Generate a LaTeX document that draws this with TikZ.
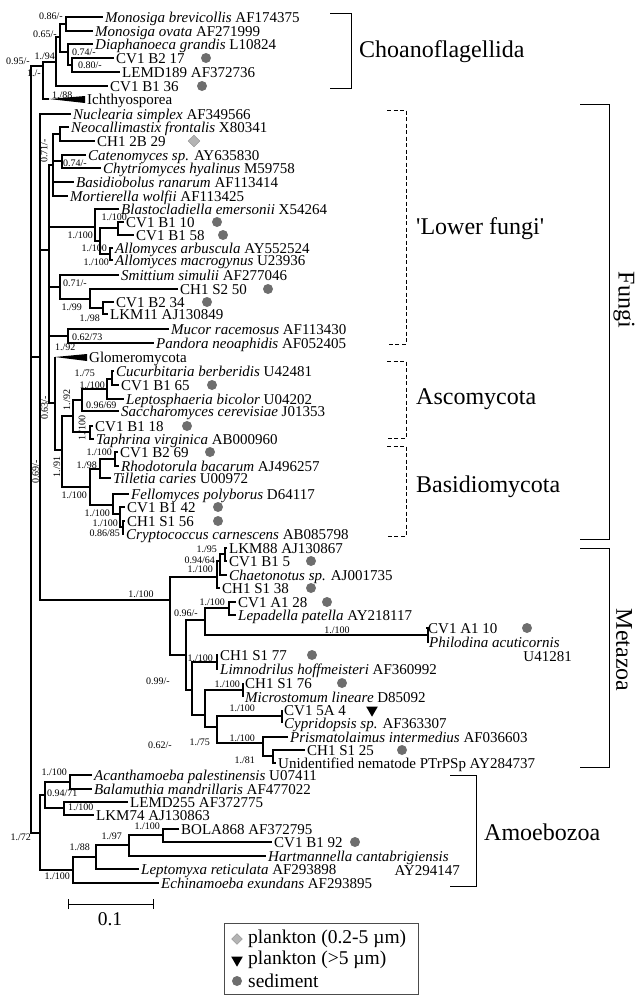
\documentclass[tikz,border=0pt]{standalone}
\usepackage{fontspec}
\setmainfont{Liberation Serif}
\newfontfamily\qfont{Liberation Serif}
\usetikzlibrary{shapes.geometric}
\newcommand{\leaffont}{\fontsize{15}{15}\selectfont}
\newcommand{\supfont}{\fontsize{10}{10}\selectfont}
\newcommand{\grpfont}{\fontsize{24}{24}\selectfont}
\newcommand{\legfont}{\fontsize{19.5}{20}\selectfont}
\newcommand{\spn}[1]{\textit{#1}}
\definecolor{dotc}{HTML}{6E6E6E}
\definecolor{diafill}{HTML}{B4B4B4}
\definecolor{diadraw}{HTML}{8C8C8C}
\begin{document}
\begin{tikzpicture}[x=1pt,y=-1pt,
  tree/.style={line width=1.25pt},
  leaf/.style={anchor=west,inner xsep=2pt,inner ysep=0pt,text height=10pt,text depth=0pt,font=\leaffont},
  sup/.style={inner sep=0pt,font=\supfont},
  grp/.style={inner sep=0pt,font=\grpfont},
  brk/.style={line width=1pt},
  dbrk/.style={line width=1pt,dash pattern=on 4pt off 2.5pt},
  sdot/.style={circle,fill=dotc,inner sep=0pt,minimum size=10pt},
  pdia/.style={diamond,fill=diafill,draw=diadraw,inner sep=0pt,minimum size=12pt},
  ptri/.style={isosceles triangle,shape border rotate=-90,isosceles triangle apex angle=60,fill=black,inner sep=0pt,minimum size=10pt}]
\useasboundingbox (0,0) rectangle (639,999);
\newcommand{\clade}[3]{\draw[tree] (#2) -| (#1) |- (#3);}
\newcommand{\twig}[2]{\draw[tree] (#1 |- #2) -- (#2);}

% ---------------- leaves ----------------
\node[leaf] (mb) at (103,17) {\spn{Monosiga brevicollis} AF174375};
\node[leaf] (mo) at (93,31) {\spn{Monosiga ovata} AF271999};
\node[leaf] (dg) at (93,44) {\spn{Diaphanoeca grandis} L10824};
\node[leaf] (c1) at (114,58) {CV1 B2 17};
\node[leaf] (le) at (120,72) {LEMD189 AF372736};
\node[leaf] (c2) at (108,86) {CV1 B1 36};
\node[leaf] (ich) at (85,99) {Ichthyosporea};
\node[leaf] (nu) at (71,114) {\spn{Nuclearia simplex} AF349566};
\node[leaf] (ne) at (69,127) {\spn{Neocallimastix frontalis} X80341};
\node[leaf] (ch) at (95,141) {CH1 2B 29};
\node[leaf] (ca) at (86,155) {\spn{Catenomyces sp.} AY635830};
\node[leaf] (cy) at (101,168) {\spn{Chytriomyces hyalinus} M59758};
\node[leaf] (ba) at (74,182) {\spn{Basidiobolus ranarum} AF113414};
\node[leaf] (mw) at (68,196) {\spn{Mortierella wolfii} AF113425};
\node[leaf] (bl) at (119,209) {\spn{Blastocladiella emersonii} X54264};
\node[leaf] (b10) at (124,222) {CV1 B1 10};
\node[leaf] (b58) at (134,235) {CV1 B1 58};
\node[leaf] (aa) at (113,248) {\spn{Allomyces arbuscula} AY552524};
\node[leaf] (am) at (113,260) {\spn{Allomyces macrogynus} U23936};
\node[leaf] (sm) at (119,275) {\spn{Smittium simulii} AF277046};
\node[leaf] (s50) at (178,289) {CH1 S2 50};
\node[leaf] (b34) at (114,302) {CV1 B2 34};
\node[leaf] (lk) at (108,314) {LKM11 AJ130849};
\node[leaf] (mu) at (169,329) {\spn{Mucor racemosus} AF113430};
\node[leaf] (pa) at (154,343) {\spn{Pandora neoaphidis} AF052405};
\node[leaf] (glo) at (87,357) {Glomeromycota};
\node[leaf] (cu) at (114,371) {\spn{Cucurbitaria berberidis} U42481};
\node[leaf] (b65) at (119,385) {CV1 B1 65};
\node[leaf] (lb) at (124,399) {\spn{Leptosphaeria bicolor} U04202};
\node[leaf] (sc) at (119,411) {\spn{Saccharomyces cerevisiae} J01353};
\node[leaf] (b18) at (93,426) {CV1 B1 18};
\node[leaf] (tv) at (94,439) {\spn{Taphrina virginica} AB000960};
\node[leaf] (b69) at (118,452) {CV1 B2 69};
\node[leaf] (rb) at (119,466) {\spn{Rhodotorula bacarum} AJ496257};
\node[leaf] (tc) at (111,478) {\spn{Tilletia caries} U00972};
\node[leaf] (fp) at (129,494) {\spn{Fellomyces polyborus} D64117};
\node[leaf] (b42) at (125,507) {CV1 B1 42};
\node[leaf] (s56) at (125,521) {CH1 S1 56};
\node[leaf] (cc) at (124,534) {\spn{Cryptococcus carnescens} AB085798};
\node[leaf] (l88) at (227,548) {LKM88 AJ130867};
\node[leaf] (b5) at (227,561) {CV1 B1 5};
\node[leaf] (chs) at (227,575) {\spn{Chaetonotus sp.} AJ001735};
\node[leaf] (s38) at (220,588) {CH1 S1 38};
\node[leaf] (a28) at (236,602) {CV1 A1 28};
\node[leaf] (lp) at (236,615) {\spn{Lepadella patella} AY218117};
\node[leaf] (a10) at (426,628) {CV1 A1 10};
\node[leaf] (ph) at (427,642) {\spn{Philodina acuticornis}};
\node[leaf,anchor=east] (phid) at (574,656) {U41281};
\node[leaf] (s77) at (218,655) {CH1 S1 77};
\node[leaf] (lh) at (218,669) {\spn{Limnodrilus hoffmeisteri} AF360992};
\node[leaf] (s76) at (243,683) {CH1 S1 76};
\node[leaf] (ml) at (243,697) {\spn{Microstomum lineare} D85092};
\node[leaf] (a4) at (282,710) {CV1 5A 4};
\node[leaf] (cp) at (282,723) {\spn{Cypridopsis sp.} AF363307};
\node[leaf] (pi) at (288,737) {\spn{Prismatolaimus intermedius} AF036603};
\node[leaf] (s25) at (305,750) {CH1 S1 25};
\node[leaf] (un) at (276,763) {Unidentified nematode PTrPSp AY284737};
\node[leaf] (ap) at (92,775) {\spn{Acanthamoeba palestinensis} U07411};
\node[leaf] (bm) at (92,789) {\spn{Balamuthia mandrillaris} AF477022};
\node[leaf] (l255) at (128,802) {LEMD255 AF372775};
\node[leaf] (l74) at (94,815) {LKM74 AJ130863};
\node[leaf] (bo) at (179,829) {BOLA868 AF372795};
\node[leaf] (b92) at (272,842) {CV1 B1 92};
\node[leaf] (hc) at (266,856) {\spn{Hartmannella cantabrigiensis}};
\node[leaf,anchor=east] (hcid) at (462,870) {AY294147};
\node[leaf] (lr) at (139,869) {\spn{Leptomyxa reticulata} AF293898};
\node[leaf] (ee) at (159,883) {\spn{Echinamoeba exundans} AF293895};

% ---------------- markers ----------------
\node[sdot] (d1) at (206,58) {};
\node[sdot] (d2) at (202,86) {};
\node[pdia] (p1) at (194,141) {};
\node[sdot] (d3) at (217,222) {};
\node[sdot] (d4) at (223,235) {};
\node[sdot] (d5) at (268,289) {};
\node[sdot] (d6) at (207,302) {};
\node[sdot] (d7) at (212,385) {};
\node[sdot] (d8) at (187,426) {};
\node[sdot] (d9) at (210,452) {};
\node[sdot] (d10) at (218,507) {};
\node[sdot] (d11) at (218,521) {};
\node[sdot] (d12) at (311,561) {};
\node[sdot] (d13) at (311,588) {};
\node[sdot] (d14) at (327,602) {};
\node[sdot] (d15) at (527,628) {};
\node[sdot] (d16) at (312,655) {};
\node[sdot] (d17) at (342,683) {};
\node[ptri] (t1) at (372,710) {};
\node[sdot] (d18) at (402,750) {};
\node[sdot] (d19) at (355,842) {};

% ---------------- internal nodes ----------------
\coordinate (n1) at (66,24);
\coordinate (n2) at (72,65);
\coordinate (n3) at (68,52);
\coordinate (n4) at (60,37);
\coordinate (n5) at (56,62);
\coordinate (n6) at (43,66);
\coordinate (ichA) at (49,99);
\coordinate (R) at (31,66);
\coordinate (H40) at (40,357);
\coordinate (F) at (49,250);
\coordinate (FA) at (53,165);
\coordinate (nne) at (60,134);
\coordinate (ncc) at (62,161);
\coordinate (B95) at (95,227);
\coordinate (B100) at (100,241);
\coordinate (bn) at (118,228);
\coordinate (al) at (110,254);
\coordinate (SG) at (60,287);
\coordinate (n90) at (90,299);
\coordinate (n103) at (103,308);
\coordinate (MP) at (68,336);
\coordinate (GD) at (55,403);
\coordinate (gloA) at (55,357);
\coordinate (DK) at (62,450);
\coordinate (HH) at (73,416);
\coordinate (F82) at (82,400);
\coordinate (EE) at (107,389);
\coordinate (CB) at (112,379);
\coordinate (GG) at (90,432);
\coordinate (OO) at (90,487);
\coordinate (KK) at (100,469);
\coordinate (JJ) at (115,459);
\coordinate (NN) at (113,505);
\coordinate (LL) at (120,514);
\coordinate (MM) at (123,527);
\coordinate (MZ) at (170,600);
\coordinate (QQ) at (217,577);
\coordinate (SS) at (220,561);
\coordinate (TT) at (225,554);
\coordinate (UU) at (186,655);
\coordinate (ROT) at (205,620);
\coordinate (RA) at (229,608);
\coordinate (PH) at (428,635);
\coordinate (ZZ) at (192,690);
\coordinate (LM) at (217,662);
\coordinate (AA) at (205,715);
\coordinate (MS) at (243,690);
\coordinate (VV) at (217,727);
\coordinate (CC) at (282,716);
\coordinate (WW) at (263,743);
\coordinate (XX) at (273,756);
\coordinate (AM) at (40,833);
\coordinate (AB) at (45,795);
\coordinate (AC) at (70,782);
\coordinate (AL) at (64,808);
\coordinate (EC) at (73,870);
\coordinate (HG) at (96,857);
\coordinate (HB) at (129,845);
\coordinate (BC) at (163,835);

% ---------------- branches ----------------
\clade{n1}{mb.west}{mo.west}
\clade{n2}{c1.west}{le.west}
\clade{n3}{dg.west}{n2}
\clade{n4}{n1}{n3}
\clade{n5}{n4}{c2.west}
\clade{n6}{n5}{ichA}
\fill (ichA) -- (ich.west |- 0,96) -- (ich.west |- 0,103) -- cycle;
\clade{R}{n6}{AM}
\draw[tree] (R |- H40) -- (H40);
\clade{H40}{nu.west}{MZ}
\draw[tree] (H40 |- F) -- (F);
% fungi
\clade{F}{FA}{GD}
\clade{FA}{nne}{mw.west}
\twig{FA}{ncc}
\twig{FA}{ba.west}
\clade{nne}{ne.west}{ch.west}
\clade{ncc}{ca.west}{cy.west}
\twig{F}{B95}
\clade{B95}{bl.west}{B100}
\clade{B100}{bn}{al}
\clade{bn}{b10.west}{b58.west}
\clade{al}{aa.west}{am.west}
\twig{F}{SG}
\clade{SG}{sm.west}{n90}
\clade{n90}{s50.west}{n103}
\clade{n103}{b34.west}{lk.west}
\twig{F}{MP}
\clade{MP}{mu.west}{pa.west}
\clade{GD}{gloA}{DK}
\fill (gloA) -- (glo.west |- 0,354) -- (glo.west |- 0,361) -- cycle;
\clade{DK}{HH}{OO}
\clade{HH}{F82}{GG}
\clade{F82}{EE}{sc.west}
\clade{EE}{CB}{lb.west}
\clade{CB}{cu.west}{b65.west}
\clade{GG}{b18.west}{tv.west}
\clade{OO}{KK}{NN}
\clade{KK}{JJ}{tc.west}
\clade{JJ}{b69.west}{rb.west}
\clade{NN}{fp.west}{LL}
\clade{LL}{b42.west}{MM}
\clade{MM}{s56.west}{cc.west}
% metazoa
\clade{MZ}{QQ}{UU}
\clade{QQ}{SS}{s38.west}
\clade{SS}{TT}{chs.west}
\clade{TT}{l88.west}{b5.west}
\clade{UU}{ROT}{ZZ}
\clade{ROT}{RA}{PH}
\clade{RA}{a28.west}{lp.west}
\clade{PH}{a10.west}{ph.west}
\clade{ZZ}{LM}{AA}
\clade{LM}{s77.west}{lh.west}
\clade{AA}{MS}{VV}
\clade{MS}{s76.west}{ml.west}
\clade{VV}{CC}{WW}
\clade{CC}{a4.west}{cp.west}
\clade{WW}{pi.west}{XX}
\clade{XX}{s25.west}{un.west}
% amoebozoa
\clade{AM}{AB}{EC}
\clade{AB}{AC}{AL}
\clade{AC}{ap.west}{bm.west}
\clade{AL}{l255.west}{l74.west}
\clade{EC}{HG}{ee.west}
\clade{HG}{HB}{lr.west}
\clade{HB}{BC}{hc.west}
\clade{BC}{bo.west}{b92.west}

% ---------------- support values ----------------
\node[sup,anchor=east] (v1) at (63,16) {0.86/-};
\node[sup,anchor=east] (v2) at (57,34) {0.65/-};
\node[sup,anchor=west] (v3) at (72,52) {0.74/-};
\node[sup,anchor=west] (v4) at (78,65) {0.80/-};
\node[sup,anchor=east] (v5) at (55,56) {1./94};
\node[sup,anchor=east] (v6) at (41,73) {1./-};
\node[sup,anchor=east] (v7) at (30,61) {0.95/-};
\node[sup,anchor=west] (v8) at (52,95) {1./88};
\node[sup,rotate=90] (v9) at (44,151) {0.71/-};
\node[sup,anchor=west] (v10) at (63,163) {0.74/-};
\node[sup,anchor=east] (v11) at (127,217) {1./100};
\node[sup,anchor=east] (v12) at (93,235) {1./100};
\node[sup,anchor=east] (v13) at (107,248) {1./100};
\node[sup,anchor=east] (v14) at (109,262) {1./100};
\node[sup,anchor=west] (v15) at (63,283) {0.71/-};
\node[sup,anchor=east] (v16) at (82,307) {1./99};
\node[sup,anchor=east] (v17) at (100,318) {1./98};
\node[sup,anchor=west] (v18) at (72,337) {0.62/73};
\node[sup,anchor=west] (v19) at (55,347) {1./92};
\node[sup,anchor=east] (v20) at (95,373) {1./75};
\node[sup,anchor=east] (v21) at (105,385) {1./100};
\node[sup,anchor=west] (v22) at (86,405) {0.96/69};
\node[sup,rotate=90] (v23) at (44.5,408) {0.63/-};
\node[sup,rotate=90] (v24) at (67,400) {1./92};
\node[sup,rotate=90] (v25) at (82,428) {1./100};
\node[sup,rotate=90] (v26) at (57,467) {1./91};
\node[sup,rotate=90] (v27) at (35.5,472) {0.69/-};
\node[sup,anchor=east] (v28) at (112,452) {1./100};
\node[sup,anchor=east] (v29) at (97,465) {1./98};
\node[sup,anchor=east] (v30) at (87,495) {1./100};
\node[sup,anchor=east] (v31) at (110,513) {1./100};
\node[sup,anchor=east] (v32) at (118,523) {1./100};
\node[sup,anchor=east] (v33) at (120,533) {0.86/85};
\node[sup,anchor=east] (v34) at (217,549) {1./95};
\node[sup,anchor=east] (v35) at (215,560) {0.94/64};
\node[sup,anchor=east] (v36) at (213,569) {1./100};
\node[sup] (v37) at (141,594) {1./100};
\node[sup,anchor=east] (v38) at (225,602) {1./100};
\node[sup,anchor=east] (v39) at (198,613) {0.96/-};
\node[sup] (v40) at (337,630) {1./100};
\node[sup,anchor=east] (v41) at (170,681) {0.99/-};
\node[sup,anchor=east] (v42) at (213,658) {1./100};
\node[sup,anchor=east] (v43) at (240,684) {1./100};
\node[sup,anchor=east] (v44) at (255,708) {1./100};
\node[sup,anchor=east] (v45) at (172,745) {0.62/-};
\node[sup,anchor=east] (v46) at (210,742) {1./75};
\node[sup,anchor=east] (v47) at (255,738) {1./100};
\node[sup,anchor=east] (v48) at (255,760) {1./81};
\node[sup,anchor=east] (v49) at (67,772) {1./100};
\node[sup,anchor=west] (v50) at (47,793) {0.94/71};
\node[sup,anchor=west] (v51) at (68,807) {1./100};
\node[sup,anchor=east] (v52) at (31,837) {1./72};
\node[sup,anchor=east] (v53) at (160,826) {1./100};
\node[sup,anchor=east] (v54) at (122,836) {1./97};
\node[sup,anchor=east] (v55) at (90,847) {1./88};
\node[sup,anchor=east] (v56) at (70,876) {1./100};

% ---------------- group brackets ----------------
\draw[brk] (330,13) -- (351,13) -- (351,88) -- (330,88);
\node[grp,anchor=west] (gch) at (359,52) {Choanoflagellida};
\draw[dbrk] (387,110) -- (406,110) -- (406,344) -- (387,344);
\node[grp,anchor=west] (glf) at (416,229) {{\qfont'}Lower fungi{\qfont'}};
\draw[dbrk] (387,361) -- (406,361) -- (406,438) -- (387,438);
\node[grp,anchor=west] (gas) at (416,399) {Ascomycota};
\draw[dbrk] (387,446) -- (406,446) -- (406,536) -- (387,536);
\node[grp,anchor=west] (gba) at (416,487) {Basidiomycota};
\draw[brk] (580,104) -- (609,104) -- (609,539) -- (580,539);
\node[grp,rotate=-90] (gfu) at (624,300) {Fungi};
\draw[brk] (580,548) -- (609,548) -- (609,767) -- (580,767);
\node[grp,rotate=-90] (gme) at (624,650) {Metazoa};
\draw[brk] (450,775) -- (476,775) -- (476,886) -- (450,886);
\node[grp,anchor=west] (gam) at (484,832) {Amoebozoa};

% ---------------- scale bar ----------------
\coordinate (sb1) at (68,904);
\coordinate (sb2) at (153,904);
\draw[line width=1pt] (sb1) -- (sb2);
\draw[line width=1pt] ([yshift=-5pt]sb1) -- ([yshift=5pt]sb1);
\draw[line width=1pt] ([yshift=-5pt]sb2) -- ([yshift=5pt]sb2);
\node[inner sep=0pt,font=\legfont] (sbl) at (110,919) {0.1};

% ---------------- legend ----------------
\draw[line width=0.9pt,draw=black!70] (224,923) rectangle (418,994);
\node[pdia,minimum size=11pt] (lg1) at (237,939) {};
\node[anchor=west,inner sep=0pt,font=\legfont] (lt1) at (248,939) {plankton (0.2-5 µm)};
\node[ptri] (lg2) at (237,960) {};
\node[anchor=west,inner sep=0pt,font=\legfont] (lt2) at (248,960) {plankton (>5 µm)};
\node[sdot] (lg3) at (237,981) {};
\node[anchor=west,inner sep=0pt,font=\legfont] (lt3) at (248,981) {sediment};
\end{tikzpicture}
\end{document}
